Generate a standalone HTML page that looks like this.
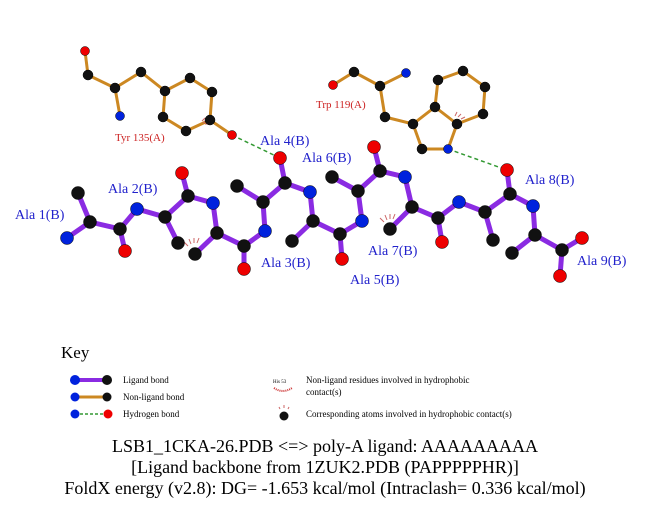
<!DOCTYPE html>
<html><head><meta charset="utf-8"><style>
html,body{margin:0;padding:0;background:#fff;}
svg{display:block;}
text{font-family:"Liberation Serif",serif;}
</style></head><body>
<svg width="651" height="511" viewBox="0 0 651 511" xmlns="http://www.w3.org/2000/svg">
<rect width="651" height="511" fill="#fff"/>
<!-- Tyr bonds -->
<g stroke="#cc8822" stroke-width="3" fill="none">
<polyline points="85,51 88,75 115,88 120,116"/>
<polyline points="115,88 141,72 165,91 190,78 212,92 210,120 186,131 163,117 165,91"/>
<line x1="210" y1="120" x2="232" y2="135"/>
<!-- Trp -->
<polyline points="333,85 354,72 380,86 406,73"/>
<polyline points="380,86 385,117 413,124 435,107 457,124 448,149 422,149 413,124"/>
<polyline points="435,107 438,80 463,71 485,87 483,114 457,124"/>
</g>
<g stroke="#339933" stroke-width="1.5" stroke-dasharray="4,3">
<line x1="232" y1="135" x2="280" y2="158"/>
<line x1="448" y1="149" x2="507" y2="170"/>
</g>
<!-- ligand bonds -->
<g stroke="#8a2be2" stroke-width="5" fill="none" stroke-linecap="round">
<polyline points="78,193 90,222 67,238"/>
<polyline points="90,222 120,229 125,251"/>
<polyline points="120,229 137,209 165,217 178,243"/>
<polyline points="165,217 188,196 182,173"/>
<polyline points="188,196 213,203 217,233 195,254"/>
<polyline points="217,233 244,246 244,269"/>
<polyline points="244,246 265,231 263,202 237,186"/>
<polyline points="263,202 285,183 280,158"/>
<polyline points="285,183 310,192 313,221 292,241"/>
<polyline points="313,221 340,234 342,259"/>
<polyline points="340,234 362,221 358,191 332,177"/>
<polyline points="358,191 380,171 374,147"/>
<polyline points="380,171 405,177 412,207 390,229"/>
<polyline points="412,207 438,218 442,242"/>
<polyline points="438,218 459,202 485,212 493,240"/>
<polyline points="485,212 510,194 507,170"/>
<polyline points="510,194 533,206 535,235 512,253"/>
<polyline points="535,235 562,250 582,238"/>
<polyline points="562,250 560,276"/>
</g>
<!-- hydrophobic marks -->
<g stroke="#cc6666" stroke-width="1">
<path d="M188,246 l-4,-4 M191,244 l-2,-5 M194,243 l0,-5 M197,243 l2,-5"/>
<path d="M384,222 l-4,-4 M387,220 l-2,-5 M390,219 l0,-5 M393,219 l2,-5"/>
<path d="M205,118 l-3,3 M207,121 l-4,2 M209,124 l-4,0"/>
<path d="M455,116 l2,-4 M458,117 l3,-3 M461,119 l4,-2"/>
</g>
<!-- atoms -->
<g stroke="#000" stroke-width="0.5">
<g fill="#111">
<circle cx="88" cy="75" r="5"/><circle cx="115" cy="88" r="5"/><circle cx="141" cy="72" r="5"/><circle cx="165" cy="91" r="5"/><circle cx="190" cy="78" r="5"/><circle cx="212" cy="92" r="5"/><circle cx="210" cy="120" r="5"/><circle cx="186" cy="131" r="5"/><circle cx="163" cy="117" r="5"/>
<circle cx="354" cy="72" r="5"/><circle cx="380" cy="86" r="5"/><circle cx="385" cy="117" r="5"/><circle cx="413" cy="124" r="5"/><circle cx="435" cy="107" r="5"/><circle cx="438" cy="80" r="5"/><circle cx="463" cy="71" r="5"/><circle cx="485" cy="87" r="5"/><circle cx="483" cy="114" r="5"/><circle cx="457" cy="124" r="5"/><circle cx="422" cy="149" r="5"/>
<circle cx="78" cy="193" r="6.5"/><circle cx="90" cy="222" r="6.5"/><circle cx="120" cy="229" r="6.5"/><circle cx="165" cy="217" r="6.5"/><circle cx="178" cy="243" r="6.5"/><circle cx="188" cy="196" r="6.5"/><circle cx="217" cy="233" r="6.5"/><circle cx="195" cy="254" r="6.5"/><circle cx="244" cy="246" r="6.5"/><circle cx="263" cy="202" r="6.5"/><circle cx="237" cy="186" r="6.5"/><circle cx="285" cy="183" r="6.5"/><circle cx="313" cy="221" r="6.5"/><circle cx="292" cy="241" r="6.5"/><circle cx="340" cy="234" r="6.5"/><circle cx="358" cy="191" r="6.5"/><circle cx="332" cy="177" r="6.5"/><circle cx="380" cy="171" r="6.5"/><circle cx="412" cy="207" r="6.5"/><circle cx="390" cy="229" r="6.5"/><circle cx="438" cy="218" r="6.5"/><circle cx="485" cy="212" r="6.5"/><circle cx="493" cy="240" r="6.5"/><circle cx="510" cy="194" r="6.5"/><circle cx="535" cy="235" r="6.5"/><circle cx="512" cy="253" r="6.5"/><circle cx="562" cy="250" r="6.5"/>
</g>
<g fill="#0022dd">
<circle cx="120" cy="116" r="4.5"/><circle cx="406" cy="73" r="4.5"/><circle cx="448" cy="149" r="4.5"/>
<circle cx="67" cy="238" r="6.5"/><circle cx="137" cy="209" r="6.5"/><circle cx="213" cy="203" r="6.5"/><circle cx="265" cy="231" r="6.5"/><circle cx="310" cy="192" r="6.5"/><circle cx="362" cy="221" r="6.5"/><circle cx="405" cy="177" r="6.5"/><circle cx="459" cy="202" r="6.5"/><circle cx="533" cy="206" r="6.5"/>
</g>
<g fill="#ee0000">
<circle cx="85" cy="51" r="4.5"/><circle cx="232" cy="135" r="4.5"/><circle cx="333" cy="85" r="4.5"/>
<circle cx="125" cy="251" r="6.5"/><circle cx="182" cy="173" r="6.5"/><circle cx="244" cy="269" r="6.5"/><circle cx="280" cy="158" r="6.5"/><circle cx="342" cy="259" r="6.5"/><circle cx="374" cy="147" r="6.5"/><circle cx="442" cy="242" r="6.5"/><circle cx="507" cy="170" r="6.5"/><circle cx="582" cy="238" r="6.5"/><circle cx="560" cy="276" r="6.5"/>
</g>
</g>
<!-- labels -->
<g fill="#cc2222" font-size="11">
<text x="115" y="141">Tyr 135(A)</text>
<text x="316" y="108">Trp 119(A)</text>
</g>
<g fill="#2222cc" font-size="14">
<text x="15" y="219">Ala 1(B)</text>
<text x="108" y="193">Ala 2(B)</text>
<text x="261" y="267">Ala 3(B)</text>
<text x="260" y="145">Ala 4(B)</text>
<text x="350" y="284">Ala 5(B)</text>
<text x="302" y="162">Ala 6(B)</text>
<text x="368" y="255">Ala 7(B)</text>
<text x="525" y="184">Ala 8(B)</text>
<text x="577" y="265">Ala 9(B)</text>
</g>
<!-- key -->
<text x="61" y="358" font-size="17">Key</text>
<line x1="75" y1="380" x2="107" y2="380" stroke="#8a2be2" stroke-width="4"/>
<circle cx="75" cy="380" r="5" fill="#0022dd"/><circle cx="107" cy="380" r="5" fill="#111"/>
<line x1="75" y1="397" x2="107" y2="397" stroke="#cc8822" stroke-width="3"/>
<circle cx="75" cy="397" r="4.5" fill="#0022dd"/><circle cx="107" cy="397" r="4.5" fill="#111"/>
<line x1="75" y1="414" x2="107" y2="414" stroke="#339933" stroke-width="1.5" stroke-dasharray="3,2"/>
<circle cx="75" cy="414" r="4.5" fill="#0022dd"/><circle cx="108" cy="414" r="4.5" fill="#ee0000"/>
<g font-size="9">
<text x="123" y="383">Ligand bond</text>
<text x="123" y="400">Non-ligand bond</text>
<text x="123" y="417">Hydrogen bond</text>
<text x="306" y="383">Non-ligand residues involved in hydrophobic</text>
<text x="306" y="395">contact(s)</text>
<text x="306" y="417">Corresponding atoms involved in hydrophobic contact(s)</text>
<text x="273" y="383" font-size="5">His 53</text>
</g>
<path d="M274,388 q9,6 18,0" stroke="#cc3333" stroke-width="2" fill="none" stroke-dasharray="1,1"/>
<circle cx="284" cy="416" r="4.5" fill="#111"/>
<path d="M280,409 l-1,-2 M284,408 l0,-3 M288,409 l1,-2" stroke="#cc6666" stroke-width="1"/>
<g font-size="18" text-anchor="middle">
<text x="325" y="452">LSB1_1CKA-26.PDB &lt;=&gt; poly-A ligand: AAAAAAAAA</text>
<text x="325" y="473">[Ligand backbone from 1ZUK2.PDB (PAPPPPPHR)]</text>
<text x="325" y="494">FoldX energy (v2.8): DG= -1.653 kcal/mol (Intraclash= 0.336 kcal/mol)</text>
</g>
</svg>
</body></html>
